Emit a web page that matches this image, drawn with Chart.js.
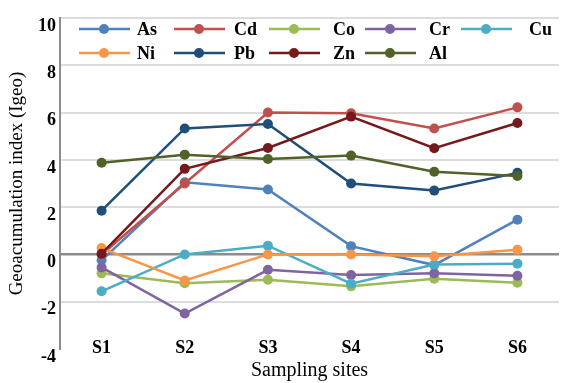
<!DOCTYPE html>
<html>
<head>
<meta charset="utf-8">
<script src="https://cdn.jsdelivr.net/npm/chart.js@4.4.1/dist/chart.umd.min.js"></script>
<style>
  html, body { margin: 0; padding: 0; background: #fff; }
  #wrap { width: 564px; height: 383px; position: relative; }
</style>
</head>
<body>
<div id="wrap"><canvas id="igeoChart"></canvas></div>
<script>
// --- Data ---
const sites = ['S1', 'S2', 'S3', 'S4', 'S5', 'S6'];
const metals = ['As', 'Cd', 'Co', 'Cr', 'Cu', 'Ni', 'Pb', 'Zn', 'Al'];

const asVals = [-0.25, 3.05, 2.75, 0.35, -0.45, 1.47];
const cdVals = [0.0, 3.0, 6.0, 5.97, 5.33, 6.22];
const coVals = [-0.8, -1.22, -1.07, -1.35, -1.03, -1.2];
const crVals = [-0.55, -2.5, -0.65, -0.87, -0.8, -0.9];
const cuVals = [-1.56, 0.0, 0.37, -1.24, -0.43, -0.39];
const niVals = [0.27, -1.1, 0.0, 0.0, -0.08, 0.2];
const pbVals = [1.85, 5.33, 5.52, 3.0, 2.7, 3.45];
const znVals = [0.03, 3.62, 4.5, 5.83, 4.49, 5.56];
const alVals = [3.88, 4.22, 4.04, 4.18, 3.5, 3.32];

const seriesValues = [asVals, cdVals, coVals, crVals, cuVals, niVals, pbVals, znVals, alVals];
const seriesColors = ['#4f81bd', '#c0504d', '#9bbb59', '#8064a2', '#4bacc6',
                      '#f79646', '#1f4e79', '#76191b', '#4f6228'];

const yMin = -4, yMax = 10, yStep = 2;

const serif = "'Liberation Serif'";

// --- Legend layout (drawn inside the plot, Excel style) ---
const legendRows = [29, 53];
const legendCols = [
    { line: 79, text: 137 },
    { line: 174, text: 234 },
    { line: 269, text: 333 },
    { line: 365, text: 429 },
    { line: 461, text: 529 }
];

const insideLegend = {
    id: 'insideLegend',
    afterDraw(chart) {
        const ctx = chart.ctx;
        ctx.save();
        ctx.font = 'bold 18px ' + serif;
        ctx.textBaseline = 'middle';
        chart.data.datasets.forEach((ds, i) => {
            const col = legendCols[i % 5];
            const y = legendRows[Math.floor(i / 5)];
            ctx.strokeStyle = ds.borderColor;
            ctx.lineWidth = 2.5;
            ctx.beginPath();
            ctx.moveTo(col.line, y);
            ctx.lineTo(col.line + 51, y);
            ctx.stroke();
            ctx.fillStyle = ds.borderColor;
            ctx.beginPath();
            ctx.arc(col.line + 25, y, 5, 0, Math.PI * 2);
            ctx.fill();
            ctx.fillStyle = '#000';
            ctx.fillText(ds.label, col.text, y + 1);
        });
        ctx.restore();
    }
};

// --- Chart ---
document.addEventListener('DOMContentLoaded', () => {
    const ctx = document.getElementById('igeoChart').getContext('2d');

    const datasets = metals.map((name, i) => ({
        label: name,
        data: seriesValues[i],
        borderColor: seriesColors[i],
        backgroundColor: seriesColors[i],
        borderWidth: 2.5,
        pointRadius: 5,
        pointHoverRadius: 5,
        pointBorderWidth: 0,
        tension: 0,
        order: metals.length - i // later series on top
    }));

    new Chart(ctx, {
        type: 'line',
        data: { labels: sites, datasets: datasets },
        plugins: [insideLegend],
        options: {
            responsive: true,
            maintainAspectRatio: false,
            animation: false,
            layout: { padding: { top: 18, right: 0, bottom: 0, left: 0 } },
            plugins: {
                legend: { display: false },
                tooltip: { enabled: false }
            },
            scales: {
                x: {
                    offset: true,
                    grid: { display: false, drawTicks: false },
                    border: { display: false },
                    ticks: {
                        color: '#000',
                        mirror: true,
                        padding: -10,
                        font: { family: serif, size: 18, weight: 'bold' }
                    },
                    title: {
                        display: true,
                        text: 'Sampling sites',
                        color: '#000',
                        padding: { top: 0, bottom: 0 },
                        font: { family: serif, size: 20 }
                    },
                    afterFit(scale) { scale.height = 34; }
                },
                y: {
                    min: yMin,
                    max: yMax,
                    ticks: {
                        stepSize: yStep,
                        color: '#000',
                        padding: 4,
                        labelOffset: 8,
                        font: { family: serif, size: 18, weight: 'bold' }
                    },
                    grid: {
                        drawTicks: false,
                        color: (c) => c.tick.value === 0 ? '#8c8c8c' : (c.tick.value === yMin ? 'rgba(0,0,0,0)' : '#dcdcdc'),
                        lineWidth: (c) => c.tick.value === 0 ? 2.5 : 2
                    },
                    border: { color: '#8c8c8c', width: 2 },
                    title: {
                        display: true,
                        text: 'Geoacumulation index (Igeo)',
                        color: '#000',
                        padding: { top: 6, bottom: 0 },
                        font: { family: serif, size: 19 }
                    },
                    afterFit(scale) { scale.width = 60; }
                }
            }
        }
    });
});
</script>
</body>
</html>
